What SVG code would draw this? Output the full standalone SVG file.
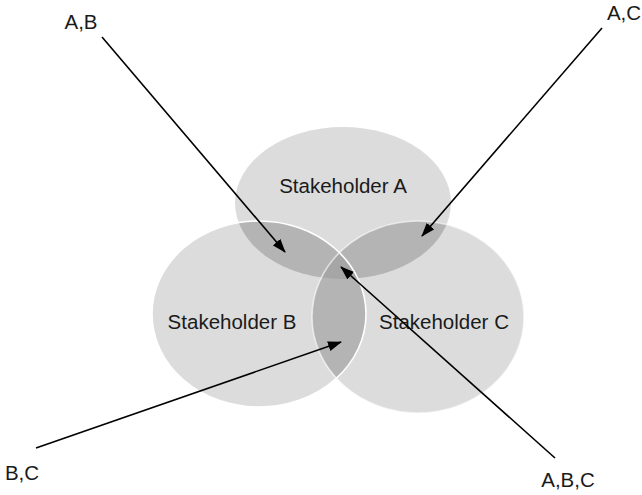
<svg xmlns="http://www.w3.org/2000/svg" width="642" height="495" viewBox="0 0 642 495">
  <style>
    .set { fill: #dcdcdc; }
    .pair { fill: #b4b4b4; }
    .triple { fill: #a6a6a6; }
    .edge { fill: none; stroke: #ffffff; stroke-width: 1.6; }
    .label { font-family: "Liberation Sans", Arial, sans-serif; font-size: 20.5px; fill: #1a1a1a; }
    .conn { stroke: #000000; stroke-width: 1.6; fill: none; marker-end: url(#head); }
  </style>
  <defs>
    <marker id="head" viewBox="0 0 14 10" refX="13" refY="5" markerWidth="14" markerHeight="10" markerUnits="userSpaceOnUse" orient="auto">
      <path d="M0,0 L14,5 L0,10 Z" fill="#000000"/>
    </marker>
    <ellipse id="shapeA" cx="343" cy="203" rx="108" ry="76"/>
    <ellipse id="shapeB" cx="259" cy="314" rx="107" ry="93"/>
    <ellipse id="shapeC" cx="418" cy="317" rx="106" ry="96"/>
    <clipPath id="clipA"><use href="#shapeA"/></clipPath>
    <clipPath id="clipB"><use href="#shapeB"/></clipPath>
    <clipPath id="clipC"><use href="#shapeC"/></clipPath>
  </defs>

  <!-- stakeholder sets -->
  <g id="set-a">
    <use href="#shapeA" class="set"/>
  </g>
  <g id="set-b">
    <use href="#shapeB" class="set"/>
  </g>
  <g id="set-c">
    <use href="#shapeC" class="set"/>
  </g>

  <!-- shared interests -->
  <g id="overlap-ab" clip-path="url(#clipA)">
    <use href="#shapeB" class="pair"/>
  </g>
  <g id="overlap-ac" clip-path="url(#clipA)">
    <use href="#shapeC" class="pair"/>
  </g>
  <g id="overlap-bc" clip-path="url(#clipB)">
    <use href="#shapeC" class="pair"/>
  </g>
  <g id="overlap-abc" clip-path="url(#clipA)">
    <g clip-path="url(#clipB)">
      <use href="#shapeC" class="triple"/>
    </g>
  </g>

  <!-- outlines of B and C -->
  <g id="outlines">
    <use href="#shapeB" class="edge"/>
    <use href="#shapeC" class="edge" stroke-opacity="0.6"/>
  </g>

  <g id="label-a"><text class="label" x="343" y="193" text-anchor="middle">Stakeholder A</text></g>
  <g id="label-b"><text class="label" x="232" y="329" text-anchor="middle">Stakeholder B</text></g>
  <g id="label-c"><text class="label" x="444" y="329" text-anchor="middle">Stakeholder C</text></g>

  <!-- pointers from region names -->
  <g id="connectors">
    <line class="conn" x1="102" y1="37" x2="285" y2="252"/>
    <line class="conn" x1="602" y1="28" x2="422" y2="236"/>
    <line class="conn" x1="36" y1="448" x2="341" y2="342"/>
    <line class="conn" x1="555" y1="458" x2="341" y2="267"/>
  </g>

  <g id="tag-ab"><text class="label" x="81" y="29" text-anchor="middle">A,B</text></g>
  <g id="tag-ac"><text class="label" x="624" y="20" text-anchor="middle">A,C</text></g>
  <g id="tag-bc"><text class="label" x="22" y="480" text-anchor="middle">B,C</text></g>
  <g id="tag-abc"><text class="label" x="568" y="487" text-anchor="middle">A,B,C</text></g>
</svg>
